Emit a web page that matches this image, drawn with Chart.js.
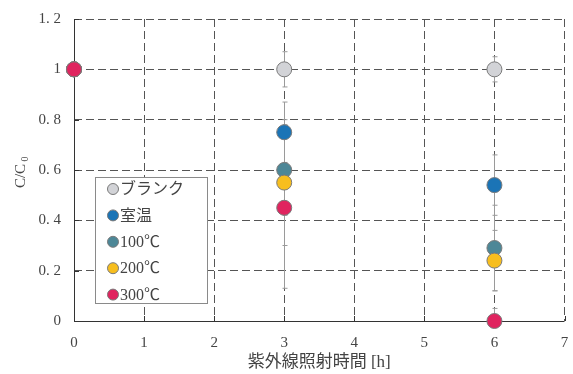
<!DOCTYPE html>
<html>
<head>
<meta charset="utf-8">
<script src="https://cdn.jsdelivr.net/npm/chart.js@4/dist/chart.umd.min.js"></script>
<style>
  html, body { margin: 0; padding: 0; background: #fff; }
  #wrap { width: 573px; height: 374px; position: relative; }
</style>
</head>
<body>
<div id="wrap"><canvas id="c"></canvas></div>
<script>
// UV irradiation time (h) and relative concentration C/C0 per condition
const hours = [0, 3, 6];
const seriesNames = ['ブランク', '室温', '100℃', '200℃', '300℃'];
const blank    = [1, 1.00, 1.00];
const roomTemp = [1, 0.75, 0.54];
const temp100  = [1, 0.60, 0.29];
const temp200  = [1, 0.55, 0.24];
const temp300  = [1, 0.45, 0.00];

// standard deviations drawn as error bars
const blankErr    = [0, 0.07, 0.05];
const roomTempErr = [0, 0.12, 0.12];
const temp100Err  = [0, 0.18, 0.17];
const temp200Err  = [0, 0.25, 0.12];
const temp300Err  = [0, 0.32, 0.05];

const xTickLabels = ['0', '1', '2', '3', '4', '5', '6', '7'];
const yTickLabels = ['0', '0. 2', '0. 4', '0. 6', '0. 8', '1', '1. 2'];

const colors = ['#d2d3d7', '#1b74b6', '#4d8797', '#f7be1e', '#e0245f'];
const values = [blank, roomTemp, temp100, temp200, temp300];
const errors = [blankErr, roomTempErr, temp100Err, temp200Err, temp300Err];

const FONT = "'Liberation Serif', 'DejaVu Serif', 'Noto Sans CJK JP', serif";
const JFONT = "'Liberation Serif', 'Noto Sans CJK JP', serif";

// later series are painted over earlier ones
const datasets = seriesNames.map((name, i) => ({
  label: name,
  data: hours.map((h, j) => ({ x: h, y: values[i][j] })),
  errs: errors[i],
  order: seriesNames.length - i,
  backgroundColor: colors[i],
  borderColor: '#7a7a7a',
  borderWidth: 1,
  pointRadius: 7.5,
  pointHoverRadius: 7.5,
  showLine: false,
  clip: false
}));

// vertical error bars with short caps
const errorBars = {
  id: 'errorBars',
  beforeDatasetsDraw(chart) {
    const { ctx, scales: { x, y } } = chart;
    ctx.save();
    ctx.strokeStyle = '#9a9a9a';
    ctx.lineWidth = 1;
    chart.data.datasets.forEach(ds => {
      ds.data.forEach((p, j) => {
        const e = ds.errs[j];
        if (!e) return;
        const px = Math.round(x.getPixelForValue(p.x)) + 0.5;
        const top = y.getPixelForValue(p.y + e);
        const bot = y.getPixelForValue(Math.max(0, p.y - e));
        ctx.beginPath();
        ctx.moveTo(px, top); ctx.lineTo(px, bot);
        ctx.moveTo(px - 2, top); ctx.lineTo(px + 3, top);
        if (p.y - e > 0) { ctx.moveTo(px - 2, bot); ctx.lineTo(px + 3, bot); }
        ctx.stroke();
      });
    });
    ctx.restore();
  }
};

// solid left/bottom axes with inward ticks, axis titles
const frame = {
  id: 'frame',
  beforeDatasetsDraw(chart) {
    const { ctx, chartArea: a, scales: { x, y } } = chart;
    ctx.save();
    ctx.strokeStyle = '#333';
    ctx.lineWidth = 1;
    ctx.beginPath();
    ctx.moveTo(a.left + 0.5, a.top); ctx.lineTo(a.left + 0.5, a.bottom + 0.5);
    ctx.lineTo(a.right, a.bottom + 0.5);
    y.ticks.forEach(t => {
      const py = Math.round(y.getPixelForValue(t.value)) + 0.5;
      ctx.moveTo(a.left, py); ctx.lineTo(a.left + 5, py);
    });
    x.ticks.forEach(t => {
      const px = Math.round(x.getPixelForValue(t.value)) + 0.5;
      ctx.moveTo(px, a.bottom); ctx.lineTo(px, a.bottom - 5);
    });
    ctx.stroke();
    ctx.restore();
  },
  afterDraw(chart) {
    const { ctx, chartArea: a } = chart;
    ctx.save();
    ctx.fillStyle = '#444';
    ctx.textAlign = 'center';
    ctx.textBaseline = 'middle';
    ctx.font = "17px " + JFONT;
    ctx.fillText('紫外線照射時間 [h]', (a.left + a.right) / 2, 363);
    ctx.translate(21, 172);
    ctx.rotate(-Math.PI / 2);
    ctx.font = "15px " + FONT;
    ctx.fillText('C/C', -4, 0);
    ctx.font = "10px " + FONT;
    ctx.fillText('0', 13, 4);
    ctx.restore();
  }
};

// legend box inside the plot area
const boxLegend = {
  id: 'boxLegend',
  afterDatasetsDraw(chart) {
    const { ctx } = chart;
    ctx.save();
    ctx.fillStyle = '#fff';
    ctx.fillRect(95, 177, 112, 126);
    ctx.strokeStyle = '#8a8a8a';
    ctx.lineWidth = 1;
    ctx.strokeRect(95.5, 177.5, 112, 126);
    ctx.font = "16px " + JFONT;
    ctx.textBaseline = 'middle';
    ctx.textAlign = 'left';
    chart.data.datasets.forEach((ds, i) => {
      const cy = 189 + i * 26.4;
      ctx.beginPath();
      ctx.arc(113, cy, 5.5, 0, Math.PI * 2);
      ctx.fillStyle = ds.backgroundColor;
      ctx.fill();
      ctx.strokeStyle = '#7a7a7a';
      ctx.stroke();
      ctx.fillStyle = '#444';
      ctx.fillText(ds.label, 120, cy + 1);
    });
    ctx.restore();
  }
};

new Chart(document.getElementById('c'), {
  type: 'scatter',
  data: { datasets },
  options: {
    responsive: true,
    maintainAspectRatio: false,
    animation: false,
    layout: { padding: { top: 19, right: 7, left: 0, bottom: 0 } },
    plugins: { legend: { display: false }, tooltip: { enabled: false } },
    scales: {
      x: {
        type: 'linear', min: 0, max: 7,
        afterFit(s) { s.height = 53; s.paddingLeft = 0; s.paddingRight = 0; },
        grid: { color: '#555', lineWidth: 1, drawTicks: false, tickLength: 0 },
        border: { display: false, dash: [8, 4] },
        ticks: {
          stepSize: 1, padding: 13, color: '#444',
          font: { family: FONT, size: 15 },
          callback: (v, i) => xTickLabels[i]
        }
      },
      y: {
        type: 'linear', min: 0, max: 1.2,
        afterFit(s) { s.width = 74; s.paddingTop = 0; s.paddingBottom = 0; },
        grid: { color: '#555', lineWidth: 1, drawTicks: false, tickLength: 0 },
        border: { display: false, dash: [8, 4] },
        ticks: {
          stepSize: 0.2, padding: 13, color: '#444',
          font: { family: FONT, size: 15 },
          callback: (v, i) => yTickLabels[i]
        }
      }
    }
  },
  plugins: [errorBars, frame, boxLegend]
});
</script>
</body>
</html>
